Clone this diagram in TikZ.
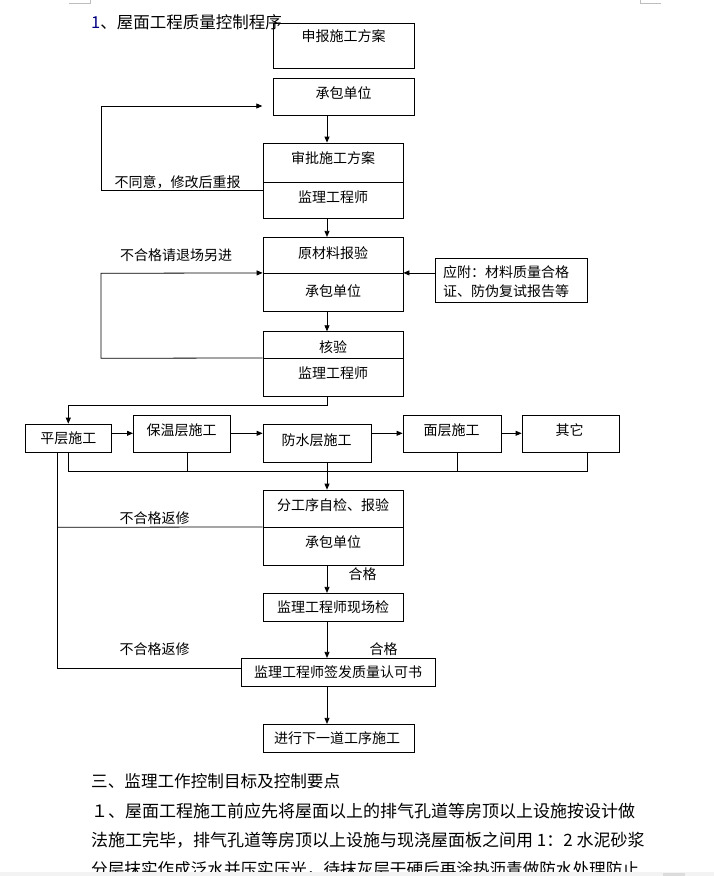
\documentclass[tikz,border=0pt]{standalone}
\usepackage{fontspec}
\setmainfont{Noto Sans CJK SC}
\usetikzlibrary{arrows.meta}
\definecolor{navy}{RGB}{0,0,128}
\definecolor{barbg}{RGB}{243,243,243}
\definecolor{barblk}{RGB}{220,220,220}
\definecolor{markgray}{RGB}{190,190,190}
\tikzset{
  x=1pt, y=-1pt,
  box/.style={draw, line width=0.8pt, inner sep=0pt, anchor=center},
  txt/.style={inner sep=0pt, font=\fontsize{14}{16}\selectfont},
  lbl/.style={inner sep=0pt, font=\fontsize{14}{16}\selectfont},
  body/.style={inner sep=0pt, anchor=west, font=\fontsize{17}{20}\selectfont},
  ln/.style={line width=0.8pt},
  arr/.style={line width=0.8pt, -{Triangle[length=6pt,width=5pt]}},
}
\begin{document}
\begin{tikzpicture}
\useasboundingbox (0,0) rectangle (714,876);
\coordinate (colx) at (327,0);

% corner marks
\draw[markgray, line width=0.8pt] (69,3) -- (90,3) -- (90,0);
\draw[markgray, line width=0.8pt] (640,0) -- (640,3) -- (661,3);

% title
\node[inner sep=0pt, anchor=west, font=\fontsize{16.5}{18}\selectfont] (title) at (91,22) {\textcolor{navy}{1}、屋面工程质量控制程序};

% boxes
\node[box, minimum width=141pt, minimum height=45pt] (a) at (343.5,45.5) {};
\node[txt] (at) at (343.5,36) {申报施工方案};
\node[box, minimum width=141pt, minimum height=37pt] (b) at (343.5,96.5) {};
\node[txt] (bt) at (343.5,93) {承包单位};
\node[box, minimum width=140pt, minimum height=39pt] (c1) at (333,162.5) {};
\node[txt] (c1t) at (333,158) {审批施工方案};
\node[box, minimum width=140pt, minimum height=36pt] (c2) at (333,200) {};
\node[txt] (c2t) at (333,197) {监理工程师};
\node[box, minimum width=140pt, minimum height=36pt] (d1) at (333,255.3) {};
\node[txt] (d1t) at (333,252.7) {原材料报验};
\node[box, minimum width=140pt, minimum height=38.4pt] (d2) at (333,292.5) {};
\node[txt] (d2t) at (333,291) {承包单位};
\node[box, minimum width=152pt, minimum height=44.4pt] (e) at (511,280.5) {};
\node[txt, align=left, anchor=west, font=\fontsize{14}{19.3}\selectfont] (et) at (443,281.5) {应附：材料质量合格\\证、防伪复试报告等};
\node[box, minimum width=140pt, minimum height=26.6pt] (f1) at (333,345) {};
\node[txt] (f1t) at (333,346.7) {核验};
\node[box, minimum width=140pt, minimum height=37.7pt] (f2) at (333,377.2) {};
\node[txt] (f2t) at (333,373.3) {监理工程师};

\node[box, minimum width=86.6pt, minimum height=28.3pt] (g) at (68.3,438.2) {};
\node[txt] (gt) at (68.3,438.3) {平层施工};
\node[box, minimum width=96.6pt, minimum height=37.3pt] (h) at (181.7,433.7) {};
\node[txt] (ht) at (181.7,430) {保温层施工};
\node[box, minimum width=108pt, minimum height=38.3pt] (i) at (317,443.2) {};
\node[txt] (it) at (316.5,440) {防水层施工};
\node[box, minimum width=98pt, minimum height=37.3pt] (j) at (452,433.7) {};
\node[txt] (jt) at (451.5,430) {面层施工};
\node[box, minimum width=97pt, minimum height=37.3pt] (k) at (570.5,433.7) {};
\node[txt] (kt) at (569.7,430) {其它};

\node[box, minimum width=140pt, minimum height=37.3pt] (l1) at (333,508.7) {};
\node[txt] (l1t) at (333,505) {分工序自检、报验};
\node[box, minimum width=140pt, minimum height=37.7pt] (l2) at (333,546.2) {};
\node[txt] (l2t) at (333,541.7) {承包单位};
\node[box, minimum width=140.5pt, minimum height=28.4pt] (m) at (333.2,607.5) {};
\node[txt] (mt) at (333,607.3) {监理工程师现场检};
\node[box, minimum width=194.3pt, minimum height=28.4pt] (n) at (338.2,672.5) {};
\node[txt] (nt) at (338,672.3) {监理工程师签发质量认可书};
\node[box, minimum width=151.4pt, minimum height=28.4pt] (o) at (338.7,738.5) {};
\node[txt] (ot) at (337,738.3) {进行下一道工序施工};

% labels
\node[lbl] (lab1) at (177.5,182) {不同意，修改后重报};
\node[lbl] (lab2) at (176,255) {不合格请退场另进};
\node[lbl] (lab3) at (154.5,518.3) {不合格返修};
\node[lbl] (lab4) at (362.5,574) {合格};
\node[lbl] (lab5) at (383.5,649.3) {合格};
\node[lbl] (lab6) at (154.5,649.3) {不合格返修};

% connectors
\coordinate (btip) at (262.3,106);
\coordinate (lp1) at (101,190);
\coordinate (lp2) at (101,273.3);
\coordinate (lp3) at (101,358.3);
\coordinate (tr1) at (327,405);
\coordinate (tr2) at (68.3,405);
\coordinate (busl) at (68.3,471);
\coordinate (busr) at (587.4,471);
\coordinate (lf1) at (57,668.3);
\coordinate (lf0) at (57,527.3);

\draw[arr] (b.south -| colx) -- (c1.north -| colx);
\draw[arr] (c2.west |- lp1) -- (lp1) -- (lp1 |- btip) -- (btip);
\draw[arr] (c2.south -| colx) -- (d1.north -| colx);
\draw[arr] (e.west |- d2.north east) -- (d2.north east);
\draw[arr] (d2.south -| colx) -- (f1.north -| colx);
\draw[arr] (f2.north west) -- (lp3) -- (lp2) -- (d2.north west);
\draw[arr] (f2.south -| colx) -- (tr1) -- (tr2) -- (g.north -| tr2);

\draw[arr] (g.east |- 0,433.3) -- (h.west |- 0,433.3);
\draw[arr] (h.east |- 0,433.3) -- (i.west |- 0,433.3);
\draw[arr] (i.east |- 0,433.3) -- (j.west |- 0,433.3);
\draw[arr] (j.east |- 0,433.3) -- (k.west |- 0,433.3);

\draw[ln] (g.south -| busl) -- (busl) -- (busr) -- (k.south -| busr);
\draw[ln] (h.south -| 187.6,0) -- (187.6,471);
\draw[ln] (j.south -| 457.6,0) -- (457.6,471);
\draw[arr] (i.south -| colx) -- (l1.north -| colx);

\draw[ln] (g.south -| lf1) -- (lf1) -- (n.west |- lf1);
\draw[ln] (lf0) -- (l2.north west);
\draw[arr] (l2.south -| colx) -- (m.north -| colx);
\draw[arr] (m.south -| colx) -- (n.north -| colx);
\draw[arr] (n.south -| colx) -- (o.north -| colx);

% body text
\node[body, font=\fontsize{16.6}{20}\selectfont] (p0) at (91,780.7) {三、监理工作控制目标及控制要点};
\node[body] (p1) at (91,810.7) {１、屋面工程施工前应先将屋面以上的排气孔道等房顶以上设施按设计做};
\node[body] (p2) at (91,840) {法施工完毕，排气孔道等房顶以上设施与现浇屋面板之间用 1：2 水泥砂浆};
\node[body, font=\fontsize{16.6}{20}\selectfont] (p3) at (91,869.6) {分层抹实作成泛水并压实压光，待抹灰层干硬后再涂热沥青做防水处理防止};

% bottom bar
\fill[barbg] (0,871.5) rectangle (714,876);
\fill[barblk] (663,872.5) rectangle (685,876);
\end{tikzpicture}
\end{document}
